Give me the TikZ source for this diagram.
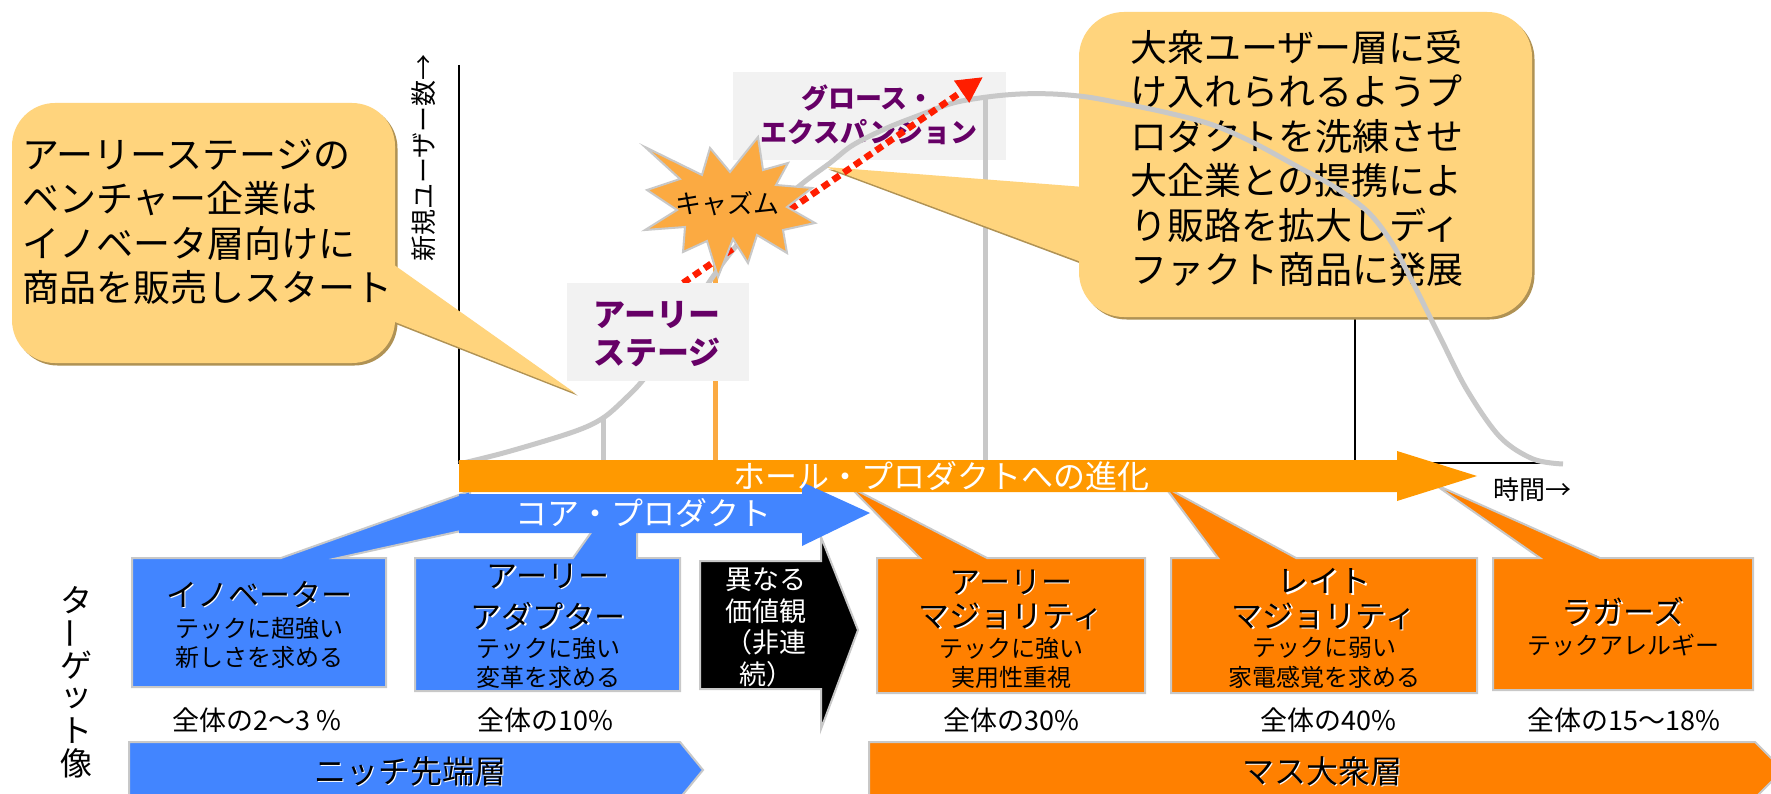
\documentclass[tikz,border=0pt]{standalone}
\usepackage{fontspec}
\setmainfont{Noto Sans CJK JP}
\usetikzlibrary{arrows.meta}
\definecolor{cblue}{RGB}{66,133,255}
\definecolor{corange}{RGB}{255,128,0}
\definecolor{carrow}{RGB}{255,153,0}
\definecolor{cstar}{RGB}{251,170,66}
\definecolor{ccall}{RGB}{255,212,125}
\definecolor{cshadow}{RGB}{176,146,84}
\definecolor{cgray}{RGB}{200,200,200}
\definecolor{cbox}{RGB}{242,242,242}
\definecolor{cpurple}{RGB}{102,0,102}
\definecolor{cred}{RGB}{255,30,0}
\newcommand{\glw}[1]{\leavevmode\rlap{\kern1.6pt\raisebox{-1.6pt}{\textcolor{white}{#1}}}#1}
\begin{document}
\begin{tikzpicture}[x=1pt,y=-1pt,
  every node/.style={inner sep=0pt,outer sep=0pt},
  callt/.style={font=\fontsize{37}{44.4}\selectfont,align=left,anchor=west},
  ttlt/.style={font=\fontsize{31}{36}\selectfont},
  subt/.style={font=\fontsize{24}{28}\selectfont},
  pctt/.style={font=\fontsize{27}{30}\selectfont},
  bigw/.style={font=\fontsize{32}{36}\selectfont,text=white},
  bart/.style={font=\fontsize{32}{36}\selectfont},
  purpt/.style={text=cpurple},
  glin/.style={draw=cgray,line width=2pt,line join=miter},
  grayv/.style={draw=cgray,line width=5pt},
  axisl/.style={draw=black,line width=2pt},
  vert/.style={font=\fontsize{32}{36}\selectfont},
]
\useasboundingbox (0,0) rectangle (1771,794);
\fill[white] (0,0) rectangle (1771,794);

% growth expansion box
\fill[cbox] (733,72) rectangle (1006,160);
\node[purpt,font=\fontsize{27}{32}\selectfont\bfseries] (ge1) at (868,98) {グロース・};
\node[purpt,font=\fontsize{27}{32}\selectfont\bfseries] (ge2) at (869,132) {エクスパンション};

% vertical guide lines and axes
\coordinate (g1t) at (603,418); \coordinate (g1b) at (603,461);
\coordinate (g2t) at (985,97);  \coordinate (g2b) at (985,461);
\coordinate (o1t) at (715,262); \coordinate (o1b) at (715,461);
\draw[grayv] (g1t) -- (g1b);
\draw[grayv] (g2t) -- (g2b);
\draw[draw=cstar,line width=5pt] (o1t) -- (o1b);
\coordinate (ytop) at (459,65); \coordinate (orig) at (459,463);
\coordinate (xend) at (1547,463);
\coordinate (v3t) at (1355,300); \coordinate (v3b) at (1355,463);
\draw[axisl] (ytop) -- (orig) -- (xend);
\draw[axisl] (v3t) -- (v3b);

% left callout
\fill[cshadow,rounded corners=43pt] (14.5,105.5) rectangle (397.5,365.5);
\fill[cshadow] (392,264.5) -- (577.5,395.5) -- (392,322.5) -- cycle;
\fill[ccall,rounded corners=43pt] (12,103) rectangle (395,363);
\fill[ccall] (390,262) -- (575,393) -- (390,320) -- cycle;
\node[callt] (lct) at (22,222) {アーリーステージの\\ベンチャー企業は\\イノベータ層向けに\\商品を販売しスタート};

% right callout
\fill[cshadow,rounded corners=45pt] (1081.5,14.5) rectangle (1534.5,319.5);
\fill[cshadow] (1086,189.5) -- (828.5,169.5) -- (1086,265.5) -- cycle;
\fill[ccall,rounded corners=45pt] (1079,12) rectangle (1532,317);
\fill[ccall] (1084,187) -- (826,167) -- (1084,263) -- cycle;
\node[callt] (rct) at (1130,158.5) {大衆ユーザー層に受\\け入れられるようプ\\ロダクトを洗練させ\\大企業との提携によ\\り販路を拡大しディ\\ファクト商品に発展};

% adoption curve
\draw[cgray,line width=5pt] plot[smooth,tension=0.55] coordinates {
 (459,464) (507,452) (573,432) (603,418) (627,397) (643,380) (665,350)
 (690,312) (712,278) (737,245) (767,214) (803,183) (830,163) (853,145)
 (887,128) (920,115) (953,103) (987,97) (1020,94) (1053,94) (1087,97)
 (1120,103) (1164,112) (1210,124) (1250,141) (1300,168) (1333,186)
 (1367,211) (1390,240) (1410,277) (1440,337) (1467,390) (1500,437)
 (1533,459) (1563,464)};

% red dotted arrow
\coordinate (rs) at (683,283); \coordinate (rt) at (983,77);
\draw[cred,line width=6.5pt,dash pattern=on 8pt off 5pt,-{Triangle[length=26pt,width=25pt]}] (rs) -- (rt);

% early stage box
\fill[cbox] (567,283) rectangle (749,381);
\node[purpt,font=\fontsize{32}{37}\selectfont\bfseries] (es1) at (657,315) {アーリー};
\node[purpt,font=\fontsize{32}{37}\selectfont\bfseries] (es2) at (657,352) {ステージ};

% chasm star
\filldraw[fill=cstar,draw=cgray,line width=2pt,line join=miter]
 (645,147) -- (702,175) -- (710,148) -- (730,172) -- (758,137) -- (763,170)
 -- (788,163) -- (776,185) -- (812,188) -- (787,207) -- (815,223) -- (783,230)
 -- (787,253) -- (757,235) -- (748,263) -- (733,239) -- (718,277) -- (707,241)
 -- (683,252) -- (685,227) -- (645,230) -- (677,210) -- (647,190) -- (680,179) -- cycle;
\node[font=\fontsize{26}{30}\selectfont] (chasm) at (727,204) {キャズム};

% target boxes with pointers
\filldraw[fill=cblue,glin] (132,558) -- (281,558) -- (470,491) -- (470,529) -- (338,558)
 -- (386,558) -- (386,687) -- (132,687) -- cycle;
\filldraw[fill=cblue,glin] (415,558) -- (573,558) -- (600,520) -- (637,520) -- (637,558)
 -- (680,558) -- (680,691) -- (415,691) -- cycle;
\filldraw[fill=corange,glin] (877,558) -- (920,558) -- (850,487) -- (987,558)
 -- (1145,558) -- (1145,693) -- (877,693) -- cycle;
\filldraw[fill=corange,glin] (1171,558) -- (1218,558) -- (1165,487) -- (1296,558)
 -- (1477,558) -- (1477,693) -- (1171,693) -- cycle;
\filldraw[fill=corange,glin] (1493,558) -- (1540,558) -- (1434,484) -- (1600,558)
 -- (1753,558) -- (1753,690) -- (1493,690) -- cycle;
% chevron
\filldraw[fill=black,glin] (700,561) -- (821,561) -- (821,537) -- (858,630) -- (821,729)
 -- (821,689) -- (700,689) -- cycle;
\node[font=\fontsize{27}{31.7}\selectfont,text=white,align=center] (chev) at (766,627.5) {異なる\\価値観\\（非連\\続）};

% bottom bars
\filldraw[fill=cblue,glin] (129,742) -- (680,742) -- (703,770) -- (680,798) -- (129,798) -- cycle;
\filldraw[fill=corange,glin] (869,742) -- (1755,742) -- (1783,770) -- (1755,798) -- (869,798) -- cycle;
\node[bart] (niche) at (410,772) {\glw{ニッチ先端層}};
\node[bart] (mass) at (1322,772) {\glw{マス大衆層}};

% whole product arrow and core product arrow
\fill[carrow] (459,460) -- (1397,460) -- (1397,451) -- (1477,476) -- (1397,501) -- (1397,492) -- (459,492) -- cycle;
\fill[cblue] (459,494) -- (802,494) -- (802,482) -- (870,513) -- (802,546) -- (802,533) -- (459,533) -- cycle;
\node[bigw] (whole) at (941,476) {ホール・プロダクトへの進化};
\node[bigw] (core) at (643,513) {コア・プロダクト};

% box texts
\node[ttlt] (in1) at (259,595) {\glw{イノベーター}};
\node[subt] (in2) at (259,628) {テックに超強い};
\node[subt] (in3) at (259,657) {新しさを求める};
\node[ttlt] (ea1) at (548,577) {\glw{アーリー}};
\node[ttlt] (ea2) at (548,617) {\glw{アダプター}};
\node[subt] (ea3) at (548,648) {テックに強い};
\node[subt] (ea4) at (548,677) {変革を求める};
\node[ttlt] (em1) at (1011,583) {\glw{アーリー}};
\node[ttlt] (em2) at (1011,617) {\glw{マジョリティ}};
\node[subt] (em3) at (1011,648) {テックに強い};
\node[subt] (em4) at (1011,677) {実用性重視};
\node[ttlt] (lm1) at (1324,582) {\glw{レイト}};
\node[ttlt] (lm2) at (1324,617) {\glw{マジョリティ}};
\node[subt] (lm3) at (1324,648) {テックに弱い};
\node[subt] (lm4) at (1324,677) {家電感覚を求める};
\node[ttlt] (lg1) at (1623,612) {\glw{ラガーズ}};
\node[subt] (lg2) at (1623,645) {テックアレルギー};

% percentages
\node[pctt] (p1) at (257,720) {全体の2～3 \%};
\node[pctt] (p2) at (545,720) {全体の10\%};
\node[pctt] (p3) at (1011,720) {全体の30\%};
\node[pctt] (p4) at (1328,720) {全体の40\%};
\node[pctt] (p5) at (1624,720) {全体の15～18\%};

% axis labels
\node[font=\fontsize{26}{30}\selectfont,rotate=90] (ylab) at (424,158) {新規ユーザー数→};
\node[font=\fontsize{26}{30}\selectfont] (xlab) at (1532,490) {時間→};

% vertical label
\node[vert] (t1) at (76,600) {タ};
\node[vert,rotate=90] (t2) at (76,633) {ー};
\node[vert] (t3) at (76,665) {ゲ};
\node[vert] (t4) at (76,698) {ッ};
\node[vert] (t5) at (76,731) {ト};
\node[vert] (t6) at (76,763) {像};
\end{tikzpicture}
\end{document}
